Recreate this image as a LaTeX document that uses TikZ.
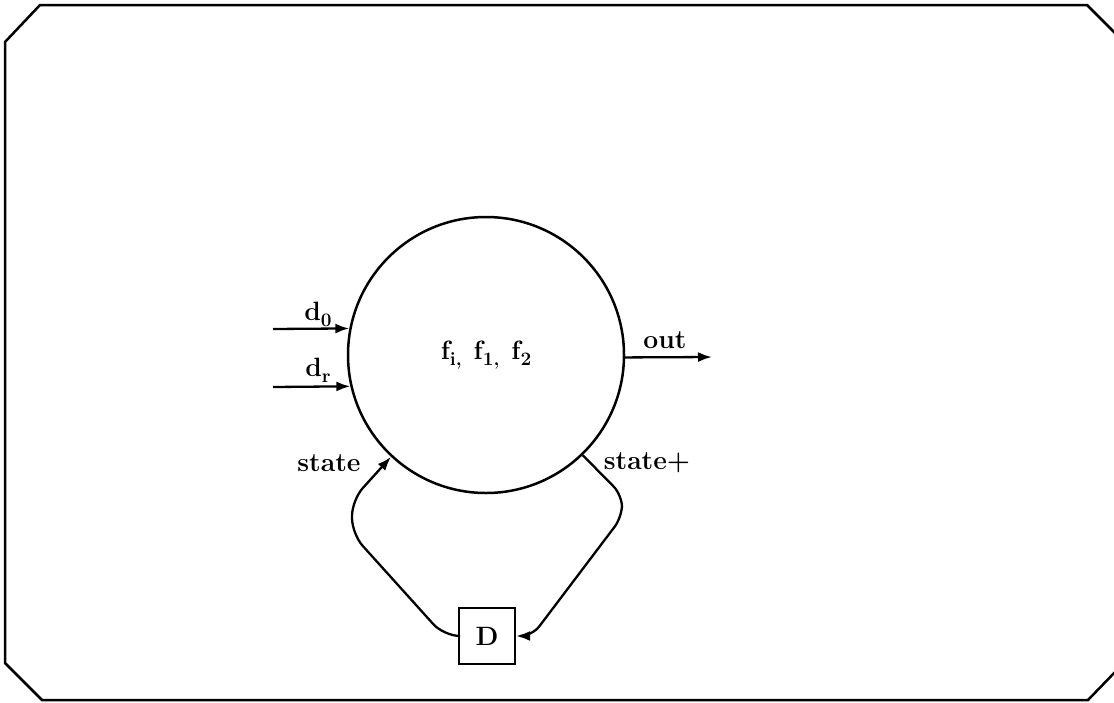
\documentclass[tikz,border=0pt]{standalone}
\usepackage{fontspec}
\usetikzlibrary{arrows.meta}
\newcommand\lowsub[1]{\raisebox{-0.5ex}{\fontsize{19}{22}\selectfont #1}}
\begin{document}
\begin{tikzpicture}[x=1pt,y=-1pt, line width=2.3pt,
  lbl/.style={font=\fontsize{26.5}{30}\selectfont\bfseries, inner sep=0pt},
  arr/.style={-{Latex[length=14pt,width=10pt]}},
  frame/.style={line width=2.5pt, line join=miter}]
\useasboundingbox (0,0) rectangle (1114,702);
\draw[frame] (5,42) -- (40,5) -- (1087,5) -- (1117,35) -- (1117,670) -- (1088,700) -- (42,700) -- (5,663) -- cycle;
\node[circle, draw, minimum size=276pt, inner sep=0pt, line width=2.5pt, lbl] (c) at (486,355) {f\lowsub{i,}\hspace{0.45em}f\lowsub{1,}\hspace{0.45em}f\lowsub{2}};
\node[draw, minimum size=56pt, lbl] (D) at (487,636) {D};
\coordinate (d0s) at (273,329);
\coordinate (drs) at (273,387);
\coordinate (oute) at (712,357);
\draw[arr] (d0s) -- (c.169);
\draw[arr] (drs) -- (c.193);
\draw[arr] (c.-1) -- (oute);
\draw[arr, rounded corners=16pt] (D.west) -- (444,636) -- (352,534) -- (352,500) -- (c.227);
\draw[arr, rounded corners=12pt] (c.314) -- (622,495) -- (622,517) -- (532,636) -- (D.east);
\node[lbl] (ld0) at (318,314) {d\lowsub{0}};
\node[lbl] (ldr) at (318,370) {d\lowsub{r}};
\node[lbl] (lout) at (665,340) {out};
\node[lbl] (lstate) at (329,463) {state};
\node[lbl] (lstatep) at (647,463) {state+};
\end{tikzpicture}
\end{document}
